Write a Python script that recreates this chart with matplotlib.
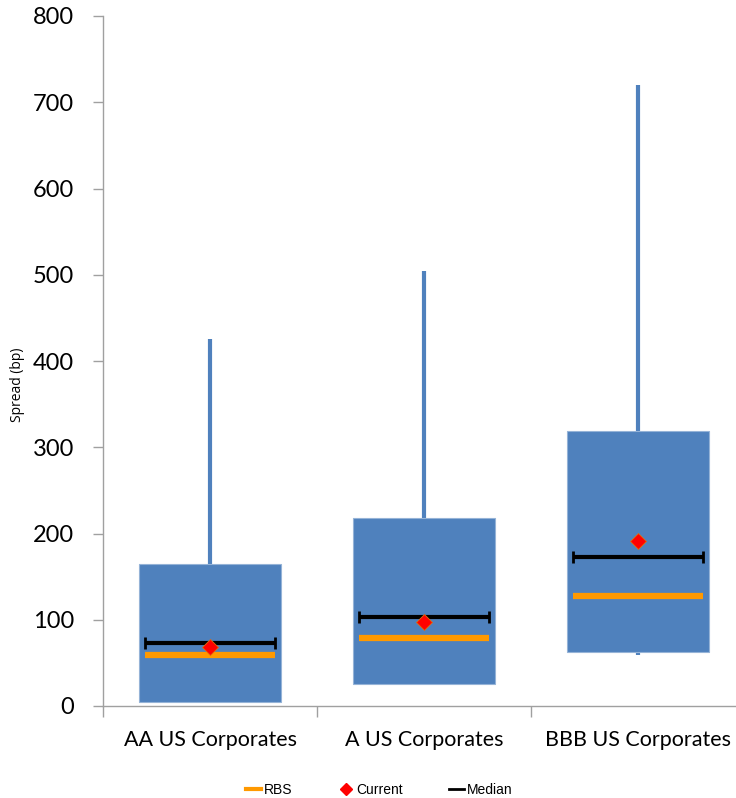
import matplotlib
matplotlib.use("Agg")
import matplotlib.pyplot as plt
from matplotlib.lines import Line2D

categories = ["AA US Corporates", "A US Corporates", "BBB US Corporates"]
whisker_low = [5, 24, 59]
box_low = [5, 25, 63]
box_high = [165, 218, 319]
whisker_high = [425, 504, 720]
median = [73, 103, 173]
rbs = [59, 79, 128]
current = [68, 97, 191]
yticks = [0, 100, 200, 300, 400, 500, 600, 700, 800]

blue = "#4F81BD"
orange = "#FF9900"

fig = plt.figure(figsize=(7.36, 7.98), dpi=100)
# the category axis runs a little past the right edge of the canvas
ax = fig.add_axes([103 / 736, 92 / 798, 642 / 736, 690 / 798])

x = list(range(len(categories)))
box_w = 0.665
line_half = 0.305

for i in x:
    ax.plot([i, i], [whisker_low[i], whisker_high[i]], color=blue, lw=3, zorder=1,
            solid_capstyle="butt")
    ax.bar(i, box_high[i] - box_low[i], bottom=box_low[i], width=box_w,
           color=blue, edgecolor="#95B3D7", linewidth=0.8, zorder=2)

ax.hlines(rbs, [i - line_half for i in x], [i + line_half for i in x],
          color=orange, lw=4.5, zorder=3)
ax.errorbar(x, median, xerr=line_half, fmt="none", ecolor="black",
            elinewidth=3, capsize=4, capthick=2, zorder=4)
ax.plot(x, current, linestyle="none", marker="D", markersize=8,
        markerfacecolor="red", markeredgecolor="#E46C0A", markeredgewidth=0.6,
        zorder=5)

ax.set_xlim(-0.5, len(categories) - 0.5)
ax.set_ylim(0, 800)
ax.set_yticks(yticks)
ax.set_yticklabels([str(v) for v in yticks], fontfamily="Lato", fontsize=17)
ax.set_xticks([i - 0.5 for i in range(len(categories) + 1)])
ax.set_xticklabels([])
ax.set_xticks(x, minor=True)
ax.set_xticklabels(categories, minor=True, fontfamily="Lato", fontsize=15.5)
ax.tick_params(axis="x", which="major", length=8, color="#A0A0A0", width=1)
ax.tick_params(axis="x", which="minor", length=0, pad=17)
ax.tick_params(axis="y", length=7, color="#A0A0A0", width=1, pad=14)

for side in ("top", "right"):
    ax.spines[side].set_visible(False)
for side in ("left", "bottom"):
    ax.spines[side].set_color("#A0A0A0")
    ax.spines[side].set_linewidth(1)

ax.set_ylabel("Spread (bp)", fontfamily="Open Sans", fontsize=10)
ax.yaxis.set_label_coords(-0.121, 0.465)

handles = [
    Line2D([], [], color=orange, lw=3),
    Line2D([], [], linestyle="none", marker="D", markersize=6,
           markerfacecolor="red", markeredgecolor="red"),
    Line2D([], [], color="black", lw=2),
]
fig.legend(handles, ["RBS", "Current", "Median"], loc="lower center",
           bbox_to_anchor=(0.515, -0.014), ncol=3, frameon=False,
           prop={"family": "Liberation Sans", "size": 10},
           handlelength=1.1, handletextpad=0.2, columnspacing=3.3)

fig.savefig("out.png", dpi=100)
